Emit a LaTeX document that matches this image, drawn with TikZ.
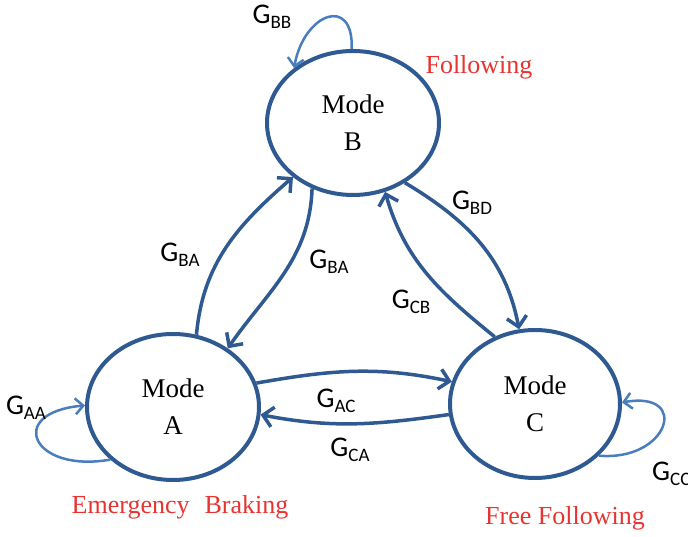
\documentclass[tikz,border=0pt]{standalone}
\usepackage{fontspec}
\setmainfont{Liberation Serif}
\newfontfamily\gainfont{Carlito}
\usetikzlibrary{shapes.geometric,arrows.meta}

\definecolor{modeblue}{RGB}{46,89,145}
\definecolor{loopblue}{RGB}{72,126,190}
\definecolor{tagred}{RGB}{232,52,48}

% transition gain label: G with a lowered, smaller subscript
\newcommand{\gainlbl}[1]{{\gainfont\fontsize{28.5}{28.5}\selectfont G\raisebox{-5pt}{\fontsize{19}{19}\selectfont #1}}}

\tikzset{
  mode/.style={ellipse, draw=modeblue, line width=4pt, inner sep=0pt,
    align=center, font=\fontsize{27}{37}\selectfont},
  trans/.style={draw=modeblue, line width=3.5pt,
    -{Straight Barb[length=10pt,width=20pt]}},
  selfloop/.style={draw=loopblue, line width=2.5pt,
    -{Straight Barb[length=8pt,width=16pt]}},
  gain/.style={inner sep=0pt},
  tag/.style={text=tagred, inner sep=0pt, font=\fontsize{26}{26}\selectfont},
}

\begin{document}
\begin{tikzpicture}[x=1pt,y=1pt]
  \useasboundingbox (0,0) rectangle (688,537);
  \clip (0,0) rectangle (688,537);

  % the three driving modes
  \node[mode, minimum width=172pt, minimum height=144pt] (B) at (353,414) {Mode\\B};
  \node[mode, minimum width=172pt, minimum height=146pt] (A) at (173,130) {Mode\\A};
  \node[mode, minimum width=170pt, minimum height=148pt] (C) at (535,133) {Mode\\C};

  % transitions between modes
  \draw[trans] (A.72)  to[out=85,in=221]  (B.222);
  \draw[trans] (B.238) to[out=268,in=55]  (A.47);
  \draw[trans] (B.311) to[out=329,in=101] (C.102);
  \draw[trans] (C.121) to[out=141,in=286] (B.295);
  \draw[trans] (A.16)  to[out=10,in=168]  (C.165);
  \draw[trans] (C.187) to[out=188,in=349] (A.355);

  % self transitions
  \draw[selfloop] (B.91)  to[out=88,in=80,distance=55pt]   (B.137);
  \draw[selfloop] (A.220) to[out=190,in=185,distance=80pt] (A.179);
  \draw[selfloop] (C.321) to[out=355,in=10,distance=70pt]  (C.1);

  % gain labels
  \node[gain] (gbb)  at (272,520) {\gainlbl{BB}};
  \node[gain] (gba1) at (180,282) {\gainlbl{BA}};
  \node[gain] (gba2) at (329,275) {\gainlbl{BA}};
  \node[gain] (gbd)  at (472,334) {\gainlbl{BD}};
  \node[gain] (gcb)  at (411,235) {\gainlbl{CB}};
  \node[gain] (gac)  at (336,136) {\gainlbl{AC}};
  \node[gain] (gca)  at (350,87)  {\gainlbl{CA}};
  \node[gain] (gaa)  at (26,129)  {\gainlbl{AA}};
  \node[gain, anchor=west] (gcc) at (652,63) {\gainlbl{CC}};

  % mode names
  \node[tag] (fol) at (479,470) {Following};
  \node[tag] (eb)  at (180,30)  {Emergency\hspace{15pt}Braking};
  \node[tag] (ff)  at (565,19)  {Free Following};
\end{tikzpicture}
\end{document}
